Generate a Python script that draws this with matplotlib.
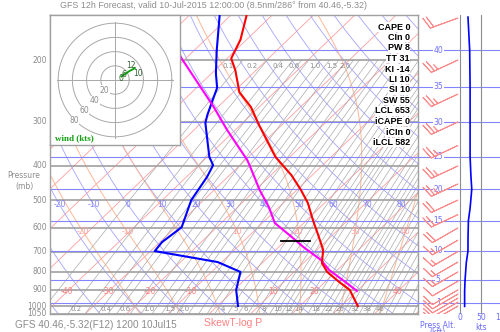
import numpy as np
import matplotlib
matplotlib.use("Agg")
import matplotlib.pyplot as plt
from matplotlib.ticker import NullLocator
from matplotlib.transforms import blended_transform_factory

# ---- sounding values ----
temp_p = [150, 175, 198, 214, 247, 272, 306, 377, 425, 468, 510, 570, 628, 693, 755, 800, 855, 900, 1000]
temp_c = [-66, -61.5, -59, -55, -48.5, -42, -35.5, -23.5, -15, -9, -4, 1.5, 6.5, 11.5, 14.5, 18, 23.5, 28, 34]

parcel_p = [150, 198, 272, 316, 385, 403, 468, 523, 581, 628, 680, 740, 790, 860, 906]
parcel_c = [-87, -71, -51, -42, -29.5, -27, -19, -12.5, -7, -0.5, 6, 13.5, 18, 25.5, 30]

dewp_p = [150, 188, 218, 240, 260, 287, 302, 377, 398, 430, 500, 597, 628, 658, 698, 750, 800, 900, 1000]
dewp_c = [-72.5, -64.5, -59, -55, -53, -50.5, -49, -39.5, -36.5, -35, -33, -28.5, -29, -29.5, -29, -11, -3, 0.5, 5]

lcl_p = 653
lcl_t = [-1, 6]

# wind speed profile (kt) against pressure altitude (kft)
spd_kft = [44.5, 40, 35, 30, 25, 22, 20, 17, 15, 12, 10, 8, 5, 3, 1, 0.3]
spd_kt = [19, 23, 24, 24, 24, 26, 28, 24, 20, 19, 19, 15, 12, 11, 11, 11]

barb_p = [152, 200, 250, 300, 350, 400, 450, 500, 550, 600, 650, 700, 750, 800, 850, 900, 925, 950, 975, 1000]
barb_kt = [20, 25, 25, 25, 25, 25, 25, 20, 20, 20, 15, 15, 15, 15, 10, 10, 10, 10, 10, 10]
barb_dir = [250, 245, 245, 245, 245, 245, 245, 245, 245, 240, 240, 240, 240, 240, 240, 240, 240, 240, 240, 240]

# hodograph (kt)
hodo_u = [9, 15, 21, 25, 28]
hodo_v = [5, 9, 13, 15, 17]

stat_names = ["CAPE", "CIn", "PW", "TT", "KI", "LI", "SI", "SW", "LCL", "iCAPE", "iCIn", "iLCL"]
stat_vals = ["0", "0", "8", "31", "-14", "10", "10", "55", "653", "0", "0", "582"]

isobars = [200, 300, 400, 500, 600, 700, 800, 900, 1000, 1050]
alt_kft = [1, 5, 10, 15, 20, 25, 30, 35, 40]
isotherm_lab = [-40, -30, -20, -10, 10, 20, 40]
theta_lab = [-20, -10, 0, 10, 20, 30, 40, 50, 60, 70, 80]
thetaw_lab = [-20, -10, 10, 20, 30, 40]
mixr_lines = [0.1, 0.2, 0.3, 0.4, 0.5, 0.6, 0.8, 1.0, 1.25, 1.5, 1.75, 2.0, 2.5, 3, 3.5, 4, 5, 6, 7, 8, 9,
              10, 11, 12, 13, 14, 16, 18, 20, 22, 24, 26, 28, 30, 32, 35, 38, 42, 46, 50, 55, 60, 70, 80]
mixr_bot = ["0.2", "0.4", "0.6", "1.0", "1.5", "2.0", "4", "5", "6", "8", "10", "12", "14", "18", "22", "26", "32", "38", "46"]
mixr_top = ["0.1", "0.2", "0.4", "0.6", "1.0", "1.5", "2.0"]

SKEW = 38.5
P_TOP, P_BOT = 149.0, 1050.0

C_GRAY = "#8c8c8c"
C_ISOT = "#ff9f9f"
C_DRY = "#a4a4ff"
C_MOIST = "#ffb896"
C_MIX = "#ababab"
C_HGT = "#8484ff"


def skx(t, p):
  return np.asarray(t) + SKEW * np.log(1000.0 / np.asarray(p))


def tdew(w, p):
  e = w * p / (622.0 + w)
  a = np.log(e / 6.112)
  return 243.5 * a / (17.67 - a)


def kft_to_p(h):
  h = np.asarray(h, dtype=float) * 1000.0
  lo = 1013.25 * (1 - 6.8756e-6 * np.minimum(h, 36089.0)) ** 5.2559
  hi = 226.32 * np.exp(-(h - 36089.0) / 20806.0)
  return np.where(h < 36089.0, lo, hi)


def moist(tw, pres):
  #* pseudo-adiabat started at 1000 mb
  def slope(t, p):
    es = 6.112 * np.exp(17.67 * (t - 273.15) / (t - 29.65))
    rs = 0.622 * es / (p - es)
    return (287.0 * t + 2.5e6 * rs) / p / (1005.0 + 2.5e6 ** 2 * rs * 0.622 / (287.0 * t * t))
  out = np.empty_like(pres)
  t = tw + 273.15
  p = 1000.0
  for i, pn in enumerate(pres):
    n = 20
    dp = (pn - p) / n
    for _ in range(n):
      k1 = slope(t, p)
      k2 = slope(t + k1 * dp, p + dp)
      t += 0.5 * (k1 + k2) * dp
      p += dp
    out[i] = t - 273.15
  return out


fig = plt.figure(figsize=(5.0, 3.32), dpi=100)

def fx(px):
  return px / 500.0

def fy(py):
  return 1.0 - py / 332.0

ax = fig.add_axes([fx(50), fy(313.5), fx(368), 298.5 / 332.0])
ax.set_yscale("log")
ax.set_ylim(P_BOT, P_TOP)
ax.set_xlim(-40.52, 48.58)
ax.yaxis.set_minor_locator(NullLocator())
ax.set_yticks([])
ax.set_xticks([])
for s in ax.spines.values():
  s.set_color("#a0a0a0")
  s.set_linewidth(1.0)

pp = np.geomspace(P_BOT, P_TOP, 120)

#* isotherms
for t in range(-140, 60, 10):
  ax.plot(skx(t, pp), pp, color=C_ISOT, lw=0.6, zorder=1)
#* dry adiabats
for th in range(-60, 240, 10):
  tt = (th + 273.15) * (pp / 1000.0) ** 0.286 - 273.15
  ax.plot(skx(tt, pp), pp, color=C_DRY, lw=0.6, zorder=1)
#* moist adiabats
pm = np.geomspace(P_BOT, P_TOP, 80)
moist_t = {}
for tw in range(-20, 50, 10):
  tt = moist(tw, pm)
  moist_t[tw] = tt
  ax.plot(skx(tt, pm), pm, color=C_MOIST, lw=0.7, zorder=1)
#* mixing ratio lines
pw = np.geomspace(P_BOT, 200, 60)
for w in mixr_lines:
  ax.plot(skx(tdew(w, pw), pw), pw, color=C_MIX, lw=0.5, zorder=1)

#* isobars and height lines
for p in isobars:
  ax.axhline(p, color="#a0a0a0", lw=1.2, zorder=2)
for h in alt_kft:
  ax.axhline(kft_to_p(h), color=C_HGT, lw=0.8, zorder=2)

#* labels on the background lines
for t in isotherm_lab:
  ax.text(skx(t, 912), 912, str(t), color="#ff7f7f", fontsize=5.5, ha="center", va="center", zorder=3)
for th in theta_lab:
  tt = (th + 273.15) * (516 / 1000.0) ** 0.286 - 273.15
  ax.text(skx(tt, 516), 516, str(th), color="#8080ff", fontsize=5.5, ha="center", va="center", zorder=3)
for tw in thetaw_lab:
  tt = np.interp(np.log(616), np.log(pm[::-1]), moist_t[tw][::-1])
  ax.text(skx(tt, 616), 616, str(tw), color="#ff9f9f", fontsize=5.5, ha="center", va="center", zorder=3)
for lab in mixr_bot:
  w = float(lab)
  ax.text(skx(tdew(w, 1022), 1022) + 1.2, 1022, lab, color=C_GRAY, fontsize=5.0, ha="center", va="center", zorder=3)
for lab in mixr_top:
  w = float(lab)
  ax.text(skx(tdew(w, 208), 208) - 2.5, 208, lab, color=C_GRAY, fontsize=5.0, ha="center", va="center", zorder=3)

#! profiles
ax.plot(skx(dewp_c, dewp_p), dewp_p, color="#0000ff", lw=1.5, zorder=5)
ax.plot(skx(parcel_c, parcel_p), parcel_p, color="#ff00ff", lw=1.5, zorder=5)
ax.plot(skx(temp_c, temp_p), temp_p, color="#ff0000", lw=1.5, zorder=6)
ax.plot(skx(lcl_t, [lcl_p, lcl_p]), [lcl_p, lcl_p], color="black", lw=1.3, zorder=7)

#* stats column
for i, (n, v) in enumerate(zip(stat_names, stat_vals)):
  fig.text(fx(410), fy(27 + i * 10.5), f"{n} {v}", fontsize=6.5, fontweight="bold", family="Liberation Sans",
           ha="right", va="center", color="black",
           bbox=dict(facecolor="white", edgecolor="none", pad=0.3), zorder=10)

#* pressure labels
tr = blended_transform_factory(fig.transFigure, ax.transData)
for p in isobars:
  fig.text(fx(47), p, str(p), transform=tr, fontsize=5.5, color=C_GRAY, ha="right", va="center")
fig.text(fx(24), fy(175), "Pressure", fontsize=5.5, color=C_GRAY, ha="center", va="center")
fig.text(fx(24), fy(186), "(mb)", fontsize=5.5, color=C_GRAY, ha="center", va="center")

#! right panel: barbs, altitude, wind speed
ax2 = fig.add_axes([fx(418), fy(313.5), fx(82), 298.5 / 332.0], sharey=ax)
ax2.set_xlim(-100, 95.2)
ax2.set_xticks([])
ax2.yaxis.set_minor_locator(NullLocator())
ax2.tick_params(left=False, labelleft=False)
for s in ax2.spines.values():
  s.set_visible(False)
ax2.patch.set_alpha(0)
for h in alt_kft:
  pk = kft_to_p(h)
  ax2.axhline(pk, color=C_HGT, lw=0.8, zorder=1)
  ax2.text(-52, pk, str(h), color="#7070ff", fontsize=5.5, ha="center", va="center",
           bbox=dict(facecolor="white", edgecolor="none", pad=0.4), zorder=3)
ax2.axvline(0, color="#8c8c8c", lw=0.8, zorder=2)
ax2.axvline(50, color="#8c8c8c", lw=0.8, zorder=2)
bd = np.radians(barb_dir)
bs = np.array(barb_kt, dtype=float)
ax2.barbs(np.full(len(barb_p), -5.0), barb_p, -bs * np.sin(bd), -bs * np.cos(bd),
          length=6.5, color="#ff8c8c", lw=0.7, zorder=4)
ax2.plot(spd_kt, kft_to_p(spd_kft), color="#0000ff", lw=1.2, zorder=5)

for v, s in [(0, "0"), (50, "50"), (100, "100")]:
  fig.text(fx(460 + v * 0.42), fy(318), s, fontsize=5.5, color="#6a6aff", ha="center", va="center")
fig.text(fx(481), fy(327), "kts", fontsize=5.5, color="#6a6aff", ha="center", va="center")
fig.text(fx(438), fy(325), "Press Alt.", fontsize=5.5, color="#6a6aff", ha="center", va="center")
fig.text(fx(438), fy(333), "(kft)", fontsize=5.5, color="#6a6aff", ha="center", va="center")

#! hodograph inset
axh = fig.add_axes([fx(50), fy(145), fx(130), 130 / 332.0], zorder=8)
axh.set_xlim(-91.5, 91.5)
axh.set_ylim(-91.5, 91.5)
axh.set_xticks([])
axh.set_yticks([])
axh.set_facecolor("white")
for s in axh.spines.values():
  s.set_color("#a0a0a0")
  s.set_linewidth(1.0)
ang = np.linspace(0, 2 * np.pi, 200)
for r in [20, 40, 60, 80]:
  axh.plot(r * np.cos(ang), r * np.sin(ang), color="#a8a8a8", lw=0.7)
  axh.text(-r * 0.72, -r * 0.72, str(r), color=C_GRAY, fontsize=5.5, ha="center", va="center",
           bbox=dict(facecolor="white", edgecolor="none", pad=0.2))
axh.plot([-82, 82], [0, 0], color="#a8a8a8", lw=0.7)
axh.plot([0, 0], [-82, 82], color="#a8a8a8", lw=0.7)
axh.plot(hodo_u, hodo_v, color="#00a000", lw=1.3)
axh.text(8, 2, "0", fontsize=5.5, color="#306030", ha="center", va="center")
axh.text(13, 8, "6", fontsize=5.5, color="#306030", ha="center", va="center")
axh.text(23, 20, "12", fontsize=5.5, color="#306030", ha="center", va="center")
axh.text(32, 9, "10", fontsize=5.5, color="#306030", ha="center", va="center")
axh.text(-84, -82, "wind (kts)", fontsize=6.5, fontweight="bold", color="#10a010",
         family="Liberation Serif", ha="left", va="center")

#! titles
fig.text(fx(60), fy(5), "GFS 12h Forecast, valid 10-Jul-2015 12:00:00 (8.5nm/286\u00b0 from 40.46,-5.32)",
         fontsize=6.4, color=C_GRAY, family="Liberation Sans", ha="left", va="center")
fig.text(fx(15), fy(325), "GFS 40.46,-5.32(F12) 1200 10Jul15", fontsize=7.2, color=C_GRAY,
         family="Liberation Sans", ha="left", va="center")
fig.text(fx(204), fy(323), "SkewT-log P", fontsize=7.5, color="#ff8080", family="Liberation Sans",
         ha="left", va="center")

fig.savefig("out.png", dpi=100)
